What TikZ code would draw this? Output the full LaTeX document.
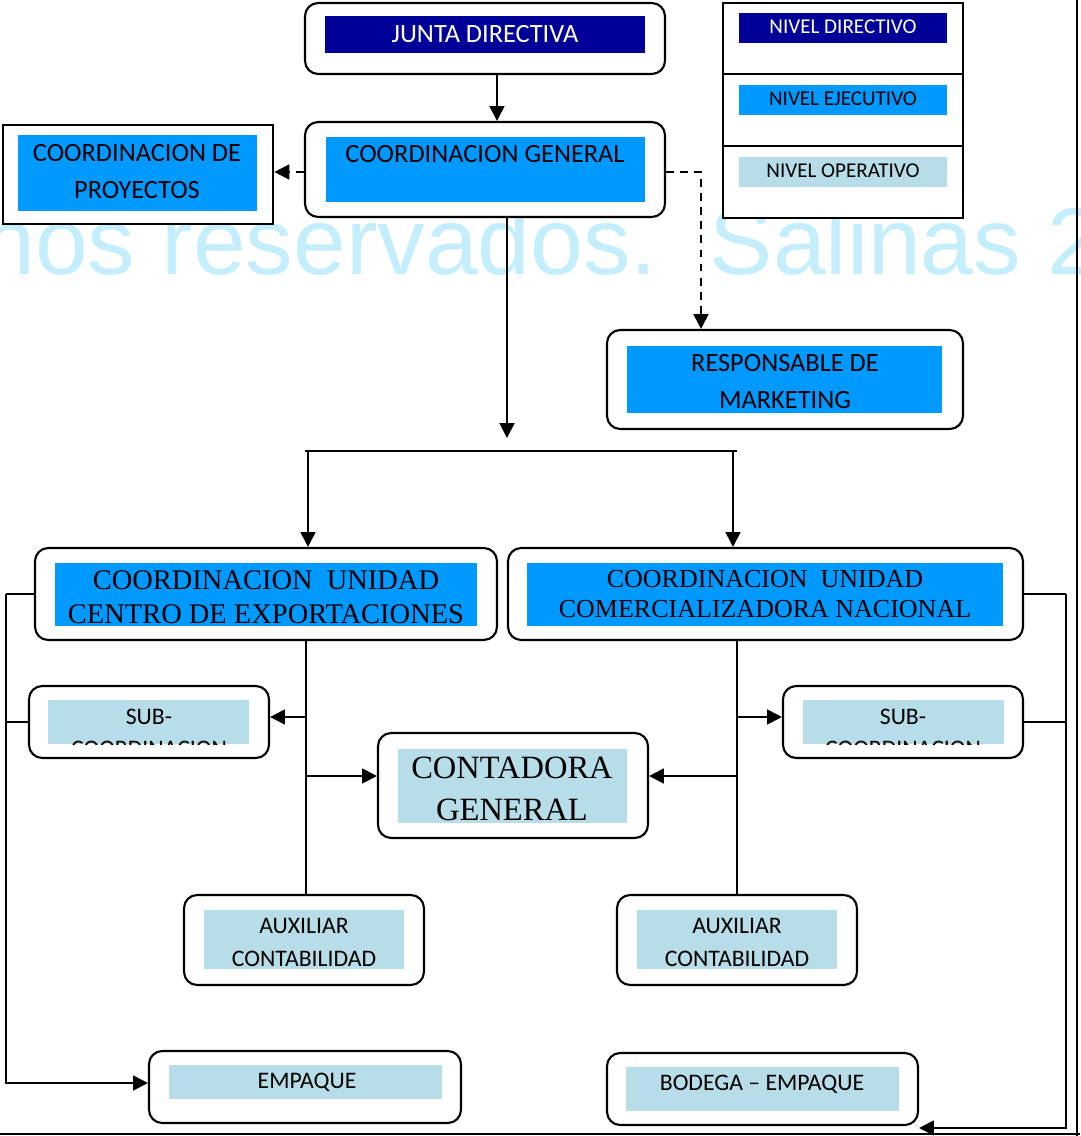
\documentclass[tikz,border=0pt]{standalone}
\usepackage{fontspec}
\setmainfont{Carlito}
\newfontfamily\calfont[Ligatures=TeX]{Carlito}
\newfontfamily\serffont[Ligatures=TeX]{Liberation Serif}
\newfontfamily\wmfont{Liberation Sans}
\usetikzlibrary{arrows.meta}

\definecolor{navyfill}{RGB}{0,0,153}
\definecolor{execfill}{RGB}{0,153,255}
\definecolor{operfill}{RGB}{183,221,232}
\definecolor{wmcolor}{RGB}{196,238,252}

% box from corner coordinates (style, name, x1, y1, x2, y2)
\newcommand\orgbox[6]{\node[#1, minimum width={(#5-#3)*0.02cm}, minimum height={(#6-#4)*0.02cm}] (#2) at ({(#3+#5)/2},{(#4+#6)/2}) {};}
% coloured band inside a box
\newcommand\tintrect[5]{\fill[#1] (#2,#3) rectangle (#4,#5);}

\tikzset{
  rbox/.style={draw, fill=white, rounded corners=7.5pt, line width=1.2pt, inner sep=0pt},
  sqbox/.style={draw, fill=white, line width=1.5pt, inner sep=0pt},
  lbl/.style={anchor=base, inner sep=0pt},
  fmain/.style={font=\calfont\fontsize{15}{18}\selectfont},
  flegend/.style={font=\calfont\fontsize{12}{14}\selectfont},
  foper/.style={font=\calfont\fontsize{13.5}{16}\selectfont},
  fserL/.style={font=\serffont\fontsize{16.2}{19}\selectfont},
  fserR/.style={font=\serffont\fontsize{14.8}{17}\selectfont},
  fserC/.style={font=\serffont\fontsize{18.5}{22}\selectfont},
  link/.style={line width=0.9pt},
  arr/.style={line width=1.1pt, -{Triangle[length=8.5pt,width=8.5pt]}},
  darr/.style={line width=1.1pt, dash pattern=on 4.5pt off 3.5pt, -{Triangle[length=8.5pt,width=8.5pt]}},
}

\begin{document}
\begin{tikzpicture}[x=0.02cm, y=-0.02cm]
\useasboundingbox (0,0) rectangle (1080,1136);
\fill[white] (0,0) rectangle (1080,1136);

% watermark
\begin{scope}
  \clip (0,0) rectangle (1080,1136);
  \node[anchor=base west, inner sep=0pt, text=wmcolor, font=\wmfont\fontsize{54}{60}\selectfont] (wm) at (-18,274) {hos reservados.\ \ Salinas 2};
\end{scope}

% column / row helpers
\coordinate (colA) at (497,0);
\coordinate (colB) at (507,0);
\coordinate (colM) at (701,0);
\coordinate (colC) at (308,0);
\coordinate (colD) at (733,0);
\coordinate (colE) at (306,0);
\coordinate (colF) at (737,0);
\coordinate (edgeL) at (6,0);
\coordinate (edgeR) at (1066,0);
\coordinate (rowS) at (0,717);
\coordinate (rowC) at (0,776);
\coordinate (rowE) at (0,1083);
\coordinate (rowB) at (0,1128);
\coordinate (rowP) at (0,172);
\coordinate (hub) at (507,438);
\coordinate (barL) at (305,451);
\coordinate (barR) at (737,451);

% ---------- boxes ----------
\orgbox{rbox}{jd}{305}{3}{665}{74}
\tintrect{navyfill}{325}{16}{645}{53}
\node[lbl, fmain, text=white] (jd-t) at (485,42) {JUNTA DIRECTIVA};

\orgbox{rbox}{cg}{305}{122}{665}{217}
\tintrect{execfill}{326}{137}{645}{202}
\node[lbl, fmain] (cg-t) at (485,162) {COORDINACION GENERAL};

\orgbox{sqbox}{proy}{3}{125}{273}{224}
\tintrect{execfill}{18}{135}{257}{211}
\node[lbl, fmain] (proy-t1) at (137,161) {COORDINACION DE};
\node[lbl, fmain] (proy-t2) at (137,198) {PROYECTOS};

\orgbox{rbox}{mkt}{607}{330}{963}{429}
\tintrect{execfill}{627}{346}{942}{413}
\node[lbl, fmain] (mkt-t1) at (785,371) {RESPONSABLE DE};
\node[lbl, fmain] (mkt-t2) at (785,408) {MARKETING};

% legend
\orgbox{sqbox}{legend}{723}{3}{963}{218}
\draw[line width=1.3pt] (723,74) -- (963,74) (723,146) -- (963,146);
\tintrect{navyfill}{739}{13}{947}{43}
\tintrect{execfill}{739}{85}{947}{115}
\tintrect{operfill}{739}{157}{947}{187}
\node[lbl, flegend, text=white] (lg-d) at (843,33) {NIVEL DIRECTIVO};
\node[lbl, flegend] (lg-e) at (843,105) {NIVEL EJECUTIVO};
\node[lbl, flegend] (lg-o) at (843,177) {NIVEL OPERATIVO};

\orgbox{rbox}{cuce}{35}{548}{497}{640}
\tintrect{execfill}{55}{563}{477}{626}
\node[lbl, fserL] (cuce-t1) at (266,589) {COORDINACION\ \ UNIDAD};
\node[lbl, fserL] (cuce-t2) at (266,623) {CENTRO DE EXPORTACIONES};

\orgbox{rbox}{cucn}{508}{548}{1023}{640}
\tintrect{execfill}{527}{563}{1003}{626}
\node[lbl, fserR] (cucn-t1) at (765,587) {COORDINACION\ \ UNIDAD};
\node[lbl, fserR] (cucn-t2) at (765,617) {COMERCIALIZADORA NACIONAL};

\orgbox{rbox}{subl}{29}{686}{269}{758}
\tintrect{operfill}{48}{700}{249}{744}
\node[lbl, foper] (subl-t1) at (149,724) {SUB-};
\begin{scope}
  \clip (48,700) rectangle (249,744);
  \node[lbl, foper] (subl-t2) at (149,756) {COORDINACION};
\end{scope}

\orgbox{rbox}{subr}{783}{686}{1023}{758}
\tintrect{operfill}{803}{700}{1004}{744}
\node[lbl, foper] (subr-t1) at (903,724) {SUB-};
\begin{scope}
  \clip (803,700) rectangle (1004,744);
  \node[lbl, foper] (subr-t2) at (903,756) {COORDINACION};
\end{scope}

\orgbox{rbox}{cont}{378}{733}{648}{838}
\tintrect{operfill}{398}{749}{627}{823}
\node[lbl, fserC] (cont-t1) at (512,778) {CONTADORA};
\node[lbl, fserC] (cont-t2) at (512,820) {GENERAL};

\orgbox{rbox}{auxl}{184}{895}{424}{985}
\tintrect{operfill}{204}{910}{404}{969}
\node[lbl, foper] (auxl-t1) at (304,933) {AUXILIAR};
\node[lbl, foper] (auxl-t2) at (304,966) {CONTABILIDAD};

\orgbox{rbox}{auxr}{617}{895}{857}{985}
\tintrect{operfill}{637}{910}{837}{969}
\node[lbl, foper] (auxr-t1) at (737,933) {AUXILIAR};
\node[lbl, foper] (auxr-t2) at (737,966) {CONTABILIDAD};

\orgbox{rbox}{emp}{149}{1051}{461}{1123}
\tintrect{operfill}{169}{1065}{442}{1099}
\node[lbl, foper] (emp-t) at (307,1088) {EMPAQUE};

\orgbox{rbox}{bod}{607}{1053}{918}{1125}
\tintrect{operfill}{626}{1067}{899}{1111}
\node[lbl, foper] (bod-t) at (762,1090) {BODEGA – EMPAQUE};

% ---------- connectors ----------
\draw[arr] (jd.south -| colA) -- (cg.north -| colA);
\draw[darr] (cg.west |- rowP) -- (proy.east |- rowP);
\draw[darr] (cg.east |- rowP) -| (colM |- mkt.north);
\draw[arr] (cg.south -| colB) -- (hub);
\draw[link, line width=1.1pt] (barL) -- (barR);
\draw[arr] (barL -| colC) -- (cuce.north -| colC);
\draw[arr] (barR -| colD) -- (cucn.north -| colD);

\draw[link] (cuce.south -| colE) -- (auxl.north -| colE);
\draw[arr] (colE |- rowS) -- (subl.east |- rowS);
\draw[arr] (colE |- rowC) -- (cont.west |- rowC);

\draw[link] (cucn.south -| colF) -- (auxr.north -| colF);
\draw[arr] (colF |- rowS) -- (subr.west |- rowS);
\draw[arr] (colF |- rowC) -- (cont.east |- rowC);

\draw[link] (cuce.west) -- (edgeL |- cuce.west);
\draw[link] (subl.west) -- (edgeL |- subl.west);
\draw[arr] (edgeL |- cuce.west) -- (edgeL |- rowE) -- (emp.west |- rowE);

\draw[link] (cucn.east) -- (edgeR |- cucn.east);
\draw[link] (subr.east) -- (edgeR |- subr.east);
\draw[arr] (edgeR |- cucn.east) -- (edgeR |- rowB) -- (bod.east |- rowB);

% page edges
\draw[line width=1pt] (0,1134) -- (1080,1134);
\draw[line width=1pt] (1077,0) -- (1077,1136);
\end{tikzpicture}
\end{document}
